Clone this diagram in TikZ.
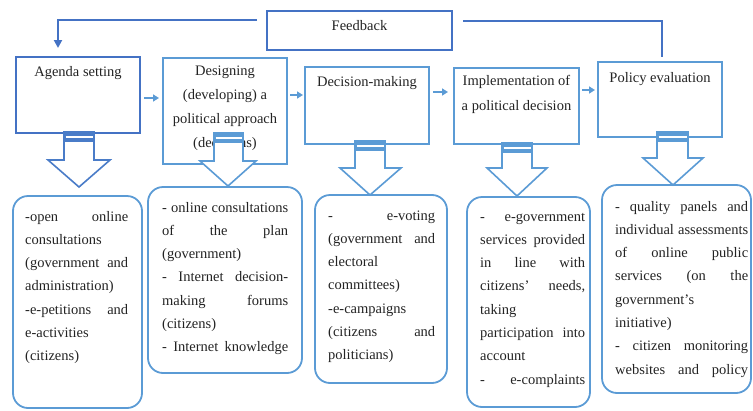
\documentclass[tikz,border=0pt]{standalone}
\usepackage{fontspec}
\setmainfont{Liberation Serif}
\usetikzlibrary{arrows.meta}
\definecolor{dblue}{RGB}{68,114,196}
\definecolor{lblue}{RGB}{91,155,213}
\definecolor{txt}{RGB}{35,35,35}
\newcommand\barrow[9]{%
  \draw[line width=1.6pt,#9,fill=white,line join=miter]
    (#1,#3) -- (#1,#4) -- (#5,#4) -- (#7,#8) -- (#6,#4) -- (#2,#4) -- (#2,#3) -- cycle;
  \fill[#9] (#1,#3) rectangle (#2,#3+9);
  \draw[white,line width=1.1pt] (#1+1.5,#3+5) -- (#2-1.5,#3+5);
}
\tikzset{
  fnt/.style={font=\fontsize{14.5}{23.3}\selectfont, text=txt},
  bx/.style={draw=lblue, line width=1.8pt, inner sep=0pt, fill=none},
  rbx/.style={draw=lblue, line width=1.8pt, rounded corners=15pt, inner sep=0pt},
  title/.style={fnt, anchor=base, align=center, inner sep=0pt},
  body/.style={fnt, anchor=base west, align=left, inner sep=0pt},
  sarr/.style={draw=lblue, line width=2pt, -{Triangle[length=6pt,width=7pt]}},
  fb/.style={draw=dblue, line width=2pt},
}
\begin{document}
\begin{tikzpicture}[x=1pt,y=-1pt]
\useasboundingbox (0,0) rectangle (753,410);
% process boxes
\node[bx, draw=dblue, minimum width=185, minimum height=39] (feedback) at (359.5,30.5) {};
\node[bx, draw=dblue, minimum width=124, minimum height=76] (agenda) at (78,95) {};
\node[bx, minimum width=124, minimum height=106] (design) at (225,111) {};
\node[bx, minimum width=124, minimum height=77] (decision) at (367,105.5) {};
\node[bx, minimum width=125, minimum height=76] (impl) at (516.5,106) {};
\node[bx, minimum width=124, minimum height=75] (policy) at (660,99.5) {};
% titles (base anchor = baseline of last line)
\node[title] (tfb) at (359.5,30) {Feedback};
\node[title] (tag) at (78,76) {Agenda setting};
\node[title, font=\fontsize{14.5}{23.7}\selectfont] (tde) at (225,147) {Designing\\(developing) a\\political approach\\(decisions)};
\node[title] (tdm) at (367,86) {Decision-making};
\node[title, font=\fontsize{14.5}{24.5}\selectfont] (tim) at (516.5,110) {Implementation of\\a political decision};
\node[title] (tpo) at (660,82) {Policy evaluation};
% feedback loop
\coordinate (f1) at (257,20);
\coordinate (f2) at (58,48);
\coordinate (f3) at (463,21);
\coordinate (f4) at (662,57);
\draw[fb, -{Triangle[length=8pt,width=8pt]}] (f1) -| (f2);
\draw[fb] (f3) -| (f4);
% small arrows
\coordinate (a1) at (144,98);  \coordinate (b1) at (159,98);
\coordinate (a2) at (290,95);  \coordinate (b2) at (303,95);
\coordinate (a3) at (433,92);  \coordinate (b3) at (448,92);
\coordinate (a4) at (582,90);  \coordinate (b4) at (595,90);
\draw[sarr] (a1) -- (b1);
\draw[sarr] (a2) -- (b2);
\draw[sarr] (a3) -- (b3);
\draw[sarr] (a4) -- (b4);
% rounded boxes
\node[rbx, minimum width=129, minimum height=212] (r1) at (77.5,302) {};
\node[rbx, minimum width=154, minimum height=186] (r2) at (225,280) {};
\node[rbx, minimum width=132, minimum height=188] (r3) at (381,289) {};
\node[rbx, minimum width=123, minimum height=210] (r4) at (528.5,302) {};
\node[rbx, minimum width=149, minimum height=208] (r5) at (676.5,289) {};
% block arrows
\barrow{64}{94}{132}{160}{48}{110}{79}{187}{draw=dblue!75!lblue,fill=dblue!75!lblue}
\barrow{214}{243}{133}{161}{200}{256}{228}{186}{draw=lblue,fill=lblue}
\barrow{355}{385}{141}{168}{340}{401}{370}{195}{draw=lblue,fill=lblue}
\barrow{502}{532}{143}{168}{487}{547}{517}{196}{draw=lblue,fill=lblue}
\barrow{657}{688}{132}{158}{643}{703}{673}{185}{draw=lblue,fill=lblue}
% body texts
\node[body, text width=103] (x1) at (25,221) {-open\hfill online\\consultations\\(government\hfill and\\administration)\\-e-petitions\hfill and\\e-activities\\(citizens)};
\node[body, text width=126] (x2) at (162,212) {-\hfill online\hfill consultations\\of\hfill the\hfill plan\\(government)\\-\hfill Internet\hfill decision-\\making\hfill forums\\(citizens)\\-\hfill Internet\hfill knowledge};
\node[body, text width=107] (x3) at (328,220) {-\hfill e-voting\\(government\hfill and\\electoral\\committees)\\-e-campaigns\\(citizens\hfill and\\politicians)};
\node[body, text width=105] (x4) at (480,221) {-\hfill e-government\\services\hfill provided\\in\hfill line\hfill with\\citizens'\hfill needs,\\taking\\participation\hfill into\\account\\-\hfill e-complaints};
\node[body, text width=133] (x5) at (615,211) {-\hfill quality\hfill panels\hfill and\\individual\hfill assessments\\of\hfill online\hfill public\\services\hfill (on\hfill the\\government's\\initiative)\\-\hfill citizen\hfill monitoring\\websites\hfill and\hfill policy};
\end{tikzpicture}
\end{document}
